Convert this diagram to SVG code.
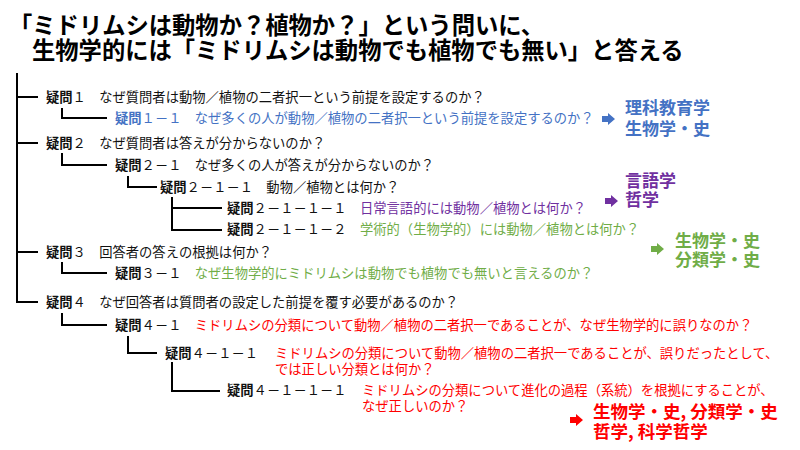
<svg xmlns="http://www.w3.org/2000/svg" xmlns:xlink="http://www.w3.org/1999/xlink" width="800" height="450" viewBox="0 0 800 450">
<defs>
<style>
text{font-family:"Noto Sans CJK JP","Noto Sans",sans-serif;}
.t{font-size:23.3px;font-weight:700;fill:#000;}
.q{font-size:13.3px;fill:#111;}
.b{font-weight:700;}
.blue{fill:#4472C4;}
.pur{fill:#7030A0;}
.grn{fill:#70AD47;}
.red{fill:#FF0000;}
.res{font-size:17px;font-weight:700;}
.conn path{fill:none;stroke:#000;stroke-width:2;}
</style>
<path id="arr" d="M0,-3 H6 V-6 L13,0 L6,6 V3 H0 Z"/>
</defs>
<rect width="800" height="450" fill="#fff"/>
<g id="title">
<text class="t" x="9" y="34">「ミドリムシは動物か？植物か？」という問いに、</text>
<text class="t" x="32" y="59">生物学的には「ミドリムシは動物でも植物でも無い」と答える</text>
</g>
<g class="conn" id="connectors">
<path d="M17,73 V302 H38"/>
<path d="M17,97 H38"/>
<path d="M17,143 H38"/>
<path d="M17,252 H38"/>
<path d="M62,108 V118 H107"/>
<path d="M62,153 V165 H107"/>
<path d="M128,176 V187 H157"/>
<path d="M172,197 V230 H222"/>
<path d="M172,208 H222"/>
<path d="M62,262 V273 H107"/>
<path d="M62,313 V325 H107"/>
<path d="M128,336 V353 H157"/>
<path d="M172,362 V391 H220"/>
</g>
<g id="q1"><text class="q" x="46" y="102"><tspan class="b">疑問</tspan>１　なぜ質問者は動物／植物の二者択一という前提を設定するのか？</text></g>
<g id="q1-1"><text class="q blue" x="115" y="123"><tspan class="b">疑問</tspan>１－１　なぜ多くの人が動物／植物の二者択一という前提を設定するのか？</text></g>
<g id="q2"><text class="q" x="46" y="148"><tspan class="b">疑問</tspan>２　なぜ質問者は答えが分からないのか？</text></g>
<g id="q2-1"><text class="q" x="115" y="170"><tspan class="b">疑問</tspan>２－１　なぜ多くの人が答えが分からないのか？</text></g>
<g id="q2-1-1"><text class="q" x="160" y="192"><tspan class="b">疑問</tspan>２－１－１　動物／植物とは何か？</text></g>
<g id="q2-1-1-1"><text class="q" x="227" y="213"><tspan class="b">疑問</tspan>２－１－１－１　<tspan class="pur">日常言語的には動物／植物とは何か？</tspan></text></g>
<g id="q2-1-1-2"><text class="q" x="227" y="234"><tspan class="b">疑問</tspan>２－１－１－２　<tspan class="grn">学術的（生物学的）には動物／植物とは何か？</tspan></text></g>
<g id="q3"><text class="q" x="46" y="257"><tspan class="b">疑問</tspan>３　回答者の答えの根拠は何か？</text></g>
<g id="q3-1"><text class="q" x="115" y="278"><tspan class="b">疑問</tspan>３－１　<tspan class="grn">なぜ生物学的にミドリムシは動物でも植物でも無いと言えるのか？</tspan></text></g>
<g id="q4"><text class="q" x="46" y="307"><tspan class="b">疑問</tspan>４　なぜ回答者は質問者の設定した前提を覆す必要があるのか？</text></g>
<g id="q4-1"><text class="q" x="115" y="330"><tspan class="b">疑問</tspan>４－１　<tspan class="red">ミドリムシの分類について動物／植物の二者択一であることが、なぜ生物学的に誤りなのか？</tspan></text></g>
<g id="q4-1-1">
<text class="q" x="165" y="358"><tspan class="b">疑問</tspan>４－１－１</text>
<text class="q red" x="275" y="358">ミドリムシの分類について動物／植物の二者択一であることが、誤りだったとして、</text>
<text class="q red" x="275" y="374">では正しい分類とは何か？</text>
</g>
<g id="q4-1-1-1">
<text class="q" x="227" y="395"><tspan class="b">疑問</tspan>４－１－１－１</text>
<text class="q red" x="362" y="395">ミドリムシの分類について進化の過程（系統）を根拠にすることが、</text>
<text class="q red" x="362" y="411">なぜ正しいのか？</text>
</g>
<g id="res-blue">
<use xlink:href="#arr" href="#arr" fill="#4472C4" transform="translate(602,119)"/>
<text class="res blue" x="625" y="113.5">理科教育学</text>
<text class="res blue" x="625" y="134.5">生物学・史</text>
</g>
<g id="res-purple">
<use xlink:href="#arr" href="#arr" fill="#7030A0" transform="translate(605,201)"/>
<text class="res pur" x="625" y="186.5">言語学</text>
<text class="res pur" x="625" y="205.5">哲学</text>
</g>
<g id="res-green">
<use xlink:href="#arr" href="#arr" fill="#70AD47" transform="translate(651,249)"/>
<text class="res grn" x="675" y="246.5">生物学・史</text>
<text class="res grn" x="675" y="265.5">分類学・史</text>
</g>
<g id="res-red">
<use xlink:href="#arr" href="#arr" fill="#FF0000" transform="translate(570,420)"/>
<text class="res red" x="593" y="418" style="font-size:17.5px">生物学・史, 分類学・史</text>
<text class="res red" x="593" y="438" style="font-size:17.5px">哲学, 科学哲学</text>
</g>
</svg>
